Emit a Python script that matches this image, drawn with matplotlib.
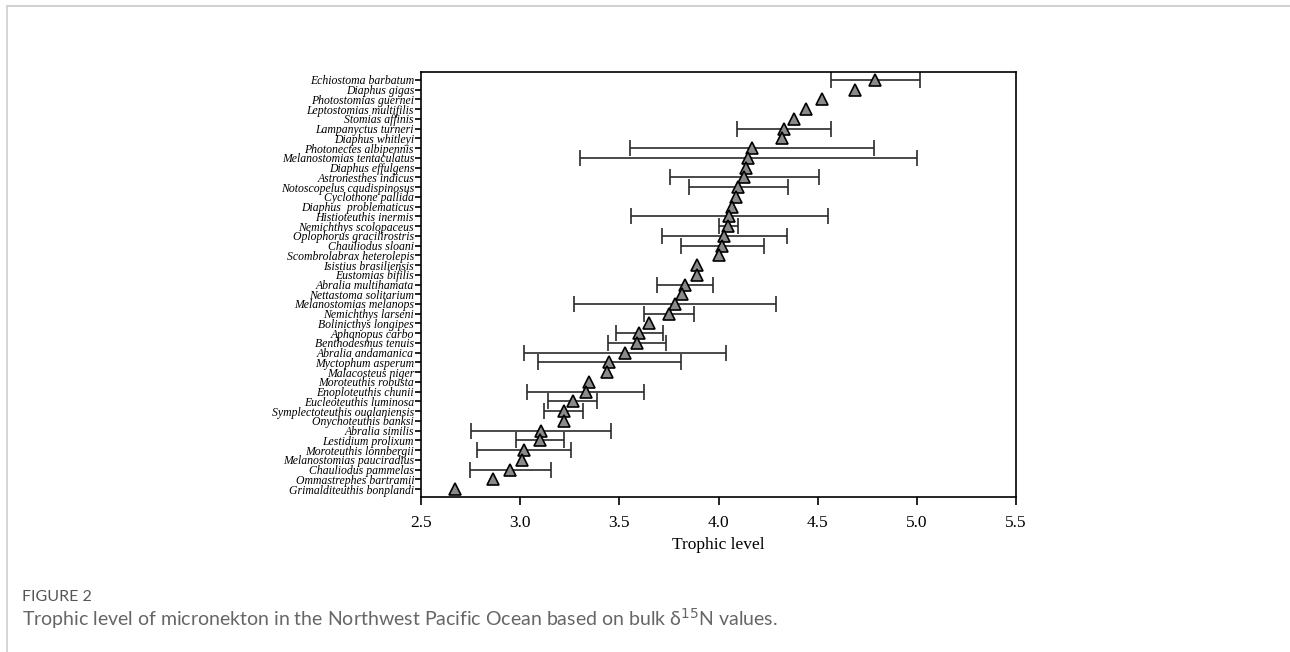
import numpy as np
import matplotlib
matplotlib.use("Agg")
import matplotlib.pyplot as plt
from matplotlib.lines import Line2D

# species from top to bottom
species = ["Echiostoma barbatum", "Diaphus gigas", "Photostomias guernei",
           "Leptostomias multifilis", "Stomias affinis", "Lampanyctus turneri",
           "Diaphus whitleyi", "Photonectes albipennis", "Melanostomias tentaculatus",
           "Diaphus effulgens", "Astronesthes indicus", "Notoscopelus caudispinosus",
           "Cyclothone pallida", "Diaphus  problematicus", "Histioteuthis inermis",
           "Nemichthys scolopaceus", "Oplophorus gracilirostris", "Chauliodus sloani",
           "Scombrolabrax heterolepis", "Isistius brasiliensis", "Eustomias bifilis",
           "Abralia multihamata", "Nettastoma solitarium", "Melanostomias melanops",
           "Nemichthys larseni", "Bolinicthys longipes", "Aphanopus carbo",
           "Benthodesmus tenuis", "Abralia andamanica", "Myctophum asperum",
           "Malacosteus niger", "Moroteuthis robusta", "Enoploteuthis chunii",
           "Eucleoteuthis luminosa", "Symplectoteuthis oualaniensis", "Onychoteuthis banksi",
           "Abralia similis", "Lestidium prolixum", "Moroteuthis lonnbergii",
           "Melanostomias pauciradius", "Chauliodus pammelas", "Ommastrephes bartramii",
           "Grimalditeuthis bonplandi"]

trophic = [4.79, 4.69, 4.52, 4.44, 4.38, 4.33, 4.32, 4.17, 4.15, 4.14,
           4.13, 4.10, 4.09, 4.07, 4.055, 4.05, 4.03, 4.02, 4.00, 3.89,
           3.89, 3.83, 3.815, 3.78, 3.75, 3.65, 3.60, 3.59, 3.53, 3.45,
           3.44, 3.345, 3.33, 3.265, 3.22, 3.22, 3.105, 3.10, 3.02, 3.01,
           2.95, 2.865, 2.67]

nan = np.nan
sd = [0.225, nan, nan, nan, nan, 0.235, nan, 0.615, 0.85, nan,
      0.375, 0.25, nan, nan, 0.495, 0.05, 0.317, 0.207, nan, nan,
      nan, 0.142, nan, 0.51, 0.125, nan, 0.118, 0.146, 0.51, 0.36,
      nan, nan, 0.295, 0.124, 0.098, nan, 0.354, 0.122, 0.237, nan,
      0.205, nan, nan]

plt.rcParams['font.family'] = ['Liberation Serif', 'DejaVu Serif']

fig = plt.figure(figsize=(12.9, 6.52), dpi=100)
ax = fig.add_axes([421/1290, 1-497/652, (1016-421)/1290, (497-72)/652])

y = np.arange(len(species))
ax.errorbar(trophic, y, xerr=sd, fmt='none', ecolor='#2a2a2a', elinewidth=1.2,
            capsize=5.5, capthick=1.2, zorder=2)
ax.plot(trophic, y, linestyle='none', marker='^', markersize=8.5,
        markerfacecolor='#8a8a8a', markeredgecolor='black', markeredgewidth=1.2, zorder=3)

ax.set_xlim(2.5, 5.5)
ax.set_ylim(len(species) - 0.2, -0.8)
ax.set_xticks([2.5, 3.0, 3.5, 4.0, 4.5, 5.0, 5.5])
ax.set_xticklabels(['2.5', '3.0', '3.5', '4.0', '4.5', '5.0', '5.5'],
                   fontsize=12.5, family='Liberation Serif')
ax.set_yticks(y)
ax.set_yticklabels(species, fontsize=8.5, style='italic')
ax.tick_params(axis='y', length=4, width=1.2, pad=1)
ax.tick_params(axis='x', length=6, width=1.2, pad=7)
for s in ax.spines.values():
    s.set_linewidth(1.2)
ax.set_xlabel('Trophic level', fontsize=12.5, labelpad=4)

# page frame and caption
fig.add_artist(Line2D([6.5/1290, 6.5/1290], [0, 1-6/652], color='#d2d2d2', lw=1.3))
fig.add_artist(Line2D([6.5/1290, 1], [1-6/652, 1-6/652], color='#d2d2d2', lw=1.5))
fig.text(22/1290, 1-597/652, 'FIGURE 2', fontsize=11.5, color='#555555',
         family=['Lato', 'DejaVu Sans'], va='center')
fig.text(22/1290, 1-619/652,
         'Trophic level of micronekton in the Northwest Pacific Ocean based on bulk '
         'δ$^{15}$N values.', fontsize=14, color='#666666',
         family=['Lato', 'DejaVu Sans'], va='center')

fig.savefig('out.png', dpi=100)
